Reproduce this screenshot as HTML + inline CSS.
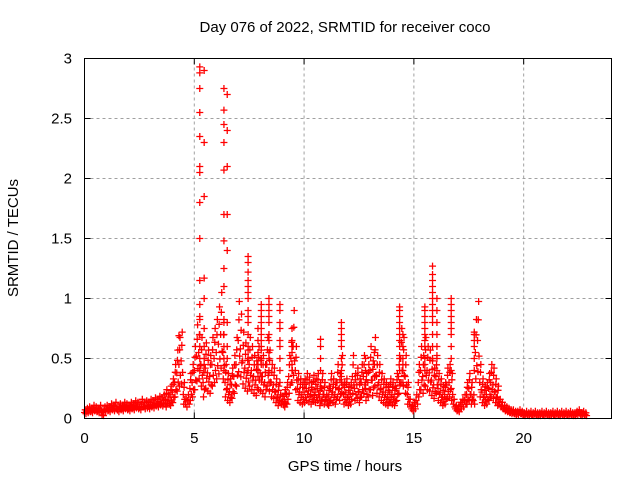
<!DOCTYPE html>
<html><head><meta charset="utf-8"><style>
body{margin:0;background:#fff;}
svg{display:block;font-family:"Liberation Sans",sans-serif;}
</style></head><body>
<svg id="chart" width="640" height="480" viewBox="0 0 640 480">
<rect width="640" height="480" fill="#fff"/>
<text x="345" y="32" font-size="15" text-anchor="middle">Day 076 of 2022, SRMTID for receiver coco</text>
<g id="grid"></g>
<g id="axes"></g>
<g id="marks"></g>
<rect x="84.5" y="58.5" width="527" height="360" fill="none" stroke="#000" stroke-width="1"/>
<text x="345" y="471" font-size="15" text-anchor="middle">GPS time / hours</text>
<text x="18" y="238" font-size="15" text-anchor="middle" transform="rotate(-90 18 238)">SRMTID / TECUs</text>
</svg>
<script>
const xTicks=[0,5,10,15,20];
const yTicks=[0,0.5,1,1.5,2,2.5,3];
const yTickLabels=["0","0.5","1","1.5","2","2.5","3"];
const baseStart=0, baseStep=0.1;
const baseValues=[
.05,.06,.07,.06,.08,.07,.06,.08,.03,.07,
.08,.07,.09,.08,.10,.07,.09,.08,.10,.09,
.08,.10,.09,.11,.10,.09,.12,.10,.11,.10,
.12,.11,.13,.12,.14,.13,.15,.16,.15,.18,
.22,.30,.38,.45,.48,.20,.12,.15,.25,.30,
.40,.52,.55,.45,.30,.42,.38,.35,.45,.50,
.55,.62,.70,.55,.30,.25,.22,.28,.35,.45,
.65,.58,.48,.42,.38,.45,.40,.35,.32,.40,
.38,.35,.30,.45,.38,.30,.28,.22,.18,.15,
.14,.16,.20,.35,.50,.60,.40,.25,.22,.20,
.22,.25,.23,.20,.24,.22,.25,.18,.25,.20,
.15,.18,.25,.22,.20,.30,.25,.35,.20,.22,
.18,.20,.35,.25,.28,.22,.30,.35,.25,.30,
.40,.32,.45,.35,.30,.25,.22,.20,.18,.22,
.20,.18,.25,.35,.50,.45,.35,.20,.12,.08,
.10,.15,.30,.40,.35,.45,.40,.38,.32,.28,
.35,.25,.22,.18,.20,.28,.30,.25,.12,.08,
.07,.10,.12,.15,.20,.25,.20,.15,.55,.65,
.30,.22,.18,.20,.25,.30,.28,.22,.18,.12,
.10,.08,.07,.06,.05,.05,.04,.04,.05,.04,
.03,.04,.03,.04,.03,.04,.03,.03,.04,.03,
.04,.03,.03,.04,.03,.04,.03,.04,.03,.04,
.03,.04,.03,.03,.04,.05,.03,.04,.03
];
const spikeTimes=[4.3,5.25,5.45,6.35,6.5,7.45,7.9,8.05,8.4,8.9,9.45,10.75,11.7,12.8,13.2,14.35,14.5,15.5,15.85,16.05,16.7,17.75];
const spikeValues=[
[.69],
[.4,.5,.6,.7,.85,.95,1.15,1.5,1.8,2.05,2.1,2.35,2.55,2.75,2.88,2.93],
[.5,.6,.75,1.0,1.17,1.85,2.3,2.9],
[.4,.5,.6,.7,.8,1.1,1.25,1.48,1.7,2.07,2.3,2.45,2.57,2.75],
[.5,.6,.8,1.4,1.7,2.1,2.4,2.7],
[.4,.5,.6,.7,.8,.85,.9,1.0,1.05,1.1,1.15,1.22,1.3,1.35],
[.35,.45,.55,.65,.75],
[.35,.45,.5,.6,.65,.7,.75,.8,.85,.9,.95],
[.3,.4,.5,.55,.65,.7,.8,.85,.9,.95,1.0],
[.3,.4,.5,.6,.65,.75,.8,.9,.95],
[.3,.4,.45,.55,.6,.65],
[.3,.4,.5,.6,.66],
[.3,.4,.5,.6,.65,.7,.75,.8],
[.3,.4,.5],
[.35,.45,.55],
[.3,.4,.5,.6,.65,.7,.75,.8,.85,.9,.93],
[.3,.4,.5,.6,.7],
[.4,.5,.6,.65,.7,.75,.8,.85,.9,.93],
[.5,.6,.7,.8,.85,.9,.95,1.0,1.05,1.1,1.15,1.2,1.27],
[.4,.5,.6,.7,.8,.9,1.0],
[.4,.5,.6,.7,.75,.8,.85,.9,.95,1.0],
[.4,.5,.6,.65,.7,.72]
];
const NS="http://www.w3.org/2000/svg";
const X0=84.5,X1=611.5,Y0=418.5,Y1=58.5;
function xs(t){return X0+(X1-X0)*t/24;}
function ys(v){return Y0-(Y0-Y1)*v/3;}
function mk(tag,attrs,parent){const e=document.createElementNS(NS,tag);for(const k in attrs)e.setAttribute(k,attrs[k]);parent.appendChild(e);return e;}
const grid=document.getElementById('grid'),axes=document.getElementById('axes'),marks=document.getElementById('marks');
xTicks.forEach(t=>{const x=xs(t);
 if(t>0){const g=mk('line',{x1:x,x2:x,y1:Y0,y2:Y1,stroke:'#a0a0a0','stroke-dasharray':'3,3'},grid);
 
 }
 mk('line',{x1:x,x2:x,y1:Y0,y2:Y0-6,stroke:'#000'},axes);
 mk('line',{x1:x,x2:x,y1:Y1,y2:Y1+6,stroke:'#000'},axes);
 const l=mk('text',{x:x,y:443,'font-size':15,'text-anchor':'middle'},axes);l.textContent=t;
 
 
});
yTicks.forEach((v,i)=>{const y=ys(v);
 if(v>0&&v<3){const g=mk('line',{x1:X0,x2:X1,y1:y,y2:y,stroke:'#a0a0a0','stroke-dasharray':'3,3'},grid);
 
 }
 mk('line',{x1:X0,x2:X0+6,y1:y,y2:y,stroke:'#000'},axes);
 mk('line',{x1:X1,x2:X1-6,y1:y,y2:y,stroke:'#000'},axes);
 const l=mk('text',{x:72,y:y+5,'font-size':15,'text-anchor':'end'},axes);l.textContent=yTickLabels[i];
 
 
});
function plus(t,v,c){const x=xs(t),y=ys(v);
 const p=mk('path',{d:`M${x-3.5},${y}H${x+3.5}M${x},${y-3.5}V${y+3.5}`,stroke:c,'stroke-width':1.3,fill:'none'},marks);
 
 }
baseValues.forEach((v,i)=>{const t=baseStart+i*baseStep;
 plus(t,v,'#f00');plus(t+0.033,v*1.25+0.01,'#f00');plus(t+0.066,v*0.8,'#f00');
 if(v>0.15){plus(t+0.05,v*1.5,'#f00');plus(t+0.02,v*0.6,'#f00');}
});
spikeTimes.forEach((t,i)=>{spikeValues[i].forEach(v=>plus(t,v,'#f00'));});
</script>
</body></html>
